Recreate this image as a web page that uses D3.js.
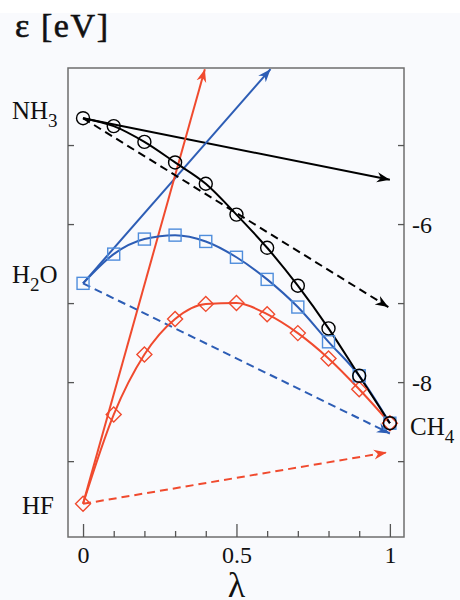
<!DOCTYPE html>
<html><head><meta charset="utf-8">
<script src="https://cdn.jsdelivr.net/npm/d3@7"></script>
<style>html,body{margin:0;padding:0;background:#fff;}svg{display:block;}</style>
</head><body>
<script>
const lambda = [0,0.1,0.2,0.3,0.4,0.5,0.6,0.7,0.8,0.9,1];
const nh3 = [-4.66,-4.76,-4.96,-5.22,-5.49,-5.88,-6.30,-6.78,-7.32,-7.92,-8.52];
const h2o = [-6.75,-6.38,-6.19,-6.14,-6.22,-6.42,-6.70,-7.05,-7.49,-7.92,-8.52];
const hf  = [-9.54,-8.41,-7.65,-7.20,-7.01,-7.00,-7.14,-7.38,-7.70,-8.09,-8.52];
// arrows: [x0,y0,x1,y1]
const arrowsSolid = [
  {c:"black", p:[0,-4.66,1.0,-5.44]},
  {c:"blue",  p:[0,-6.75,0.611,-4.04]},
  {c:"red",   p:[0,-9.54,0.397,-4.04]}
];
const arrowsDashed = [
  {c:"black", p:[0,-4.66,0.995,-7.05]},
  {c:"blue",  p:[0,-6.75,1.0,-8.65]},
  {c:"red",   p:[0,-9.54,0.99,-8.89]}
];
const xMajor = [0,0.5,1];
const xMinor = [0.1,0.2,0.3,0.4,0.6,0.7,0.8,0.9];
const yTicks = [-5,-6,-7,-8,-9];
const yLabels = [-6,-8];
const molLabels = [
  {t:"NH", s:"3", v:-4.66, side:"left"},
  {t:"H", s:"2", t2:"O", v:-6.75, side:"left"},
  {t:"HF", v:-9.54, side:"left"},
  {t:"CH", s:"4", v:-8.52, side:"right"}
];

const col = {black:"#000", blue:"#2d5db5", red:"#f04a2e"};
const mcol = {black:"#000", blue:"#4f8ddc", red:"#f04a2e"};

const W=460,H=600;
const svg=d3.select("body").append("svg").attr("width",W).attr("height",H);
svg.append("rect").attr("x",0).attr("y",0).attr("width",W).attr("height",H).attr("fill","#fff");
svg.append("rect").attr("x",0).attr("y",13).attr("width",W).attr("height",H-13).attr("fill","#f9fafd");

const x=d3.scaleLinear().domain([-0.049,1.046]).range([68,404]);
const y=d3.scaleLinear().domain([-9.96,-4.025]).range([537,68]);

const defs=svg.append("defs");
Object.keys(col).forEach(k=>{
  defs.append("marker").attr("id","ah-"+k).attr("markerUnits","userSpaceOnUse")
    .attr("viewBox","-13 -6 15 12").attr("refX",0).attr("refY",0)
    .attr("markerWidth",15).attr("markerHeight",12).attr("orient","auto")
    .append("path").attr("d","M0,0 L-13,-5 L-9,0 L-13,5 Z").attr("fill",col[k]);
});

const font="'Liberation Serif','Times New Roman',serif";

// frame
svg.append("rect").attr("x",x.range()[0]).attr("y",y.range()[1])
  .attr("width",x.range()[1]-x.range()[0]).attr("height",y.range()[0]-y.range()[1])
  .attr("fill","none").attr("stroke","#6e6e6e").attr("stroke-width",1.5);

// axes
const ax = (g)=>{g.select(".domain").remove(); g.selectAll("line").attr("stroke","#555").attr("stroke-width",1.3);};
svg.append("g").attr("transform",`translate(0,${y.range()[0]})`)
  .call(d3.axisBottom(x).tickValues(xMinor).tickSize(-6).tickFormat("")).call(ax);
svg.append("g").attr("transform",`translate(0,${y.range()[0]})`)
  .call(d3.axisBottom(x).tickValues(xMajor).tickSize(-13).tickPadding(22).tickFormat(d=>d===0.5?"0.5":String(d)))
  .call(ax)
  .selectAll("text").attr("font-family",font).attr("font-size",24).attr("fill","#111").attr("dy",0).attr("y",26);
svg.append("g").attr("transform",`translate(${x.range()[0]},0)`)
  .call(d3.axisLeft(y).tickValues(yTicks).tickSize(-6).tickFormat("")).call(ax);
svg.append("g").attr("transform",`translate(${x.range()[1]},0)`)
  .call(d3.axisRight(y).tickValues(yTicks).tickSize(-6).tickFormat(d=>yLabels.includes(d)?String(d):""))
  .call(ax)
  .selectAll("text").attr("font-family",font).attr("font-size",24).attr("fill","#111").attr("x",8).attr("dy","0.35em");

// arrows
const drawArrow=(a,dash)=>{
  svg.append("line").attr("x1",x(a.p[0])).attr("y1",y(a.p[1])).attr("x2",x(a.p[2])).attr("y2",y(a.p[3]))
    .attr("stroke",col[a.c]).attr("stroke-width",2).attr("stroke-dasharray",dash?"8,5":null)
    .attr("marker-end",`url(#ah-${a.c})`);
};
arrowsSolid.forEach(a=>drawArrow(a,false));
arrowsDashed.forEach(a=>drawArrow(a,true));

// curves
const line=d3.line().x((d,i)=>x(lambda[i])).y(d=>y(d)).curve(d3.curveMonotoneX);
[["red",hf],["blue",h2o],["black",nh3]].forEach(([k,vals])=>{
  svg.append("path").attr("d",line(vals)).attr("fill","none").attr("stroke",col[k]).attr("stroke-width",2);
});

// markers
const gm=svg.append("g").attr("fill","none").attr("stroke-width",1.4);
gm.selectAll(".sq").data(h2o).join("rect").attr("x",(d,i)=>x(lambda[i])-6).attr("y",d=>y(d)-6)
  .attr("width",12).attr("height",12).attr("stroke",mcol.blue);
gm.selectAll(".dm").data(hf).join("path")
  .attr("d",(d,i)=>`M${x(lambda[i])},${y(d)-7.5} l7.5,7.5 l-7.5,7.5 l-7.5,-7.5 Z`).attr("stroke",mcol.red);
gm.selectAll(".ci").data(nh3).join("circle").attr("cx",(d,i)=>x(lambda[i])).attr("cy",d=>y(d)).attr("r",6.5)
  .attr("stroke",mcol.black);

// molecule labels
const labelOffset={NH:1, H:0, HF:10, CH:12};
molLabels.forEach(m=>{
  const yy=y(m.v)+labelOffset[m.t];
  const t=svg.append("text").attr("x",m.side==="left"?(m.t==="HF"?22:12):410).attr("y",yy);
  t.attr("font-family",font).attr("font-size",25).attr("fill","#111");
  t.append("tspan").text(m.t);
  if(m.s){ t.append("tspan").attr("font-size",19).attr("dy",8).text(m.s); }
  if(m.t2){ t.append("tspan").attr("dy",-8).text(m.t2); }
});

// title & x label
svg.append("text").attr("x",15).attr("y",37).attr("font-family",font).attr("font-size",34)
  .attr("textLength",93).attr("lengthAdjust","spacing")
  .attr("fill","#111").attr("stroke","#111").attr("stroke-width",0.6).text("ε [eV]");
svg.append("text").attr("x",x(0.5)).attr("y",597).attr("text-anchor","middle").attr("font-family",font)
  .attr("font-size",36).attr("fill","#111").text("λ");
</script>
</body></html>
